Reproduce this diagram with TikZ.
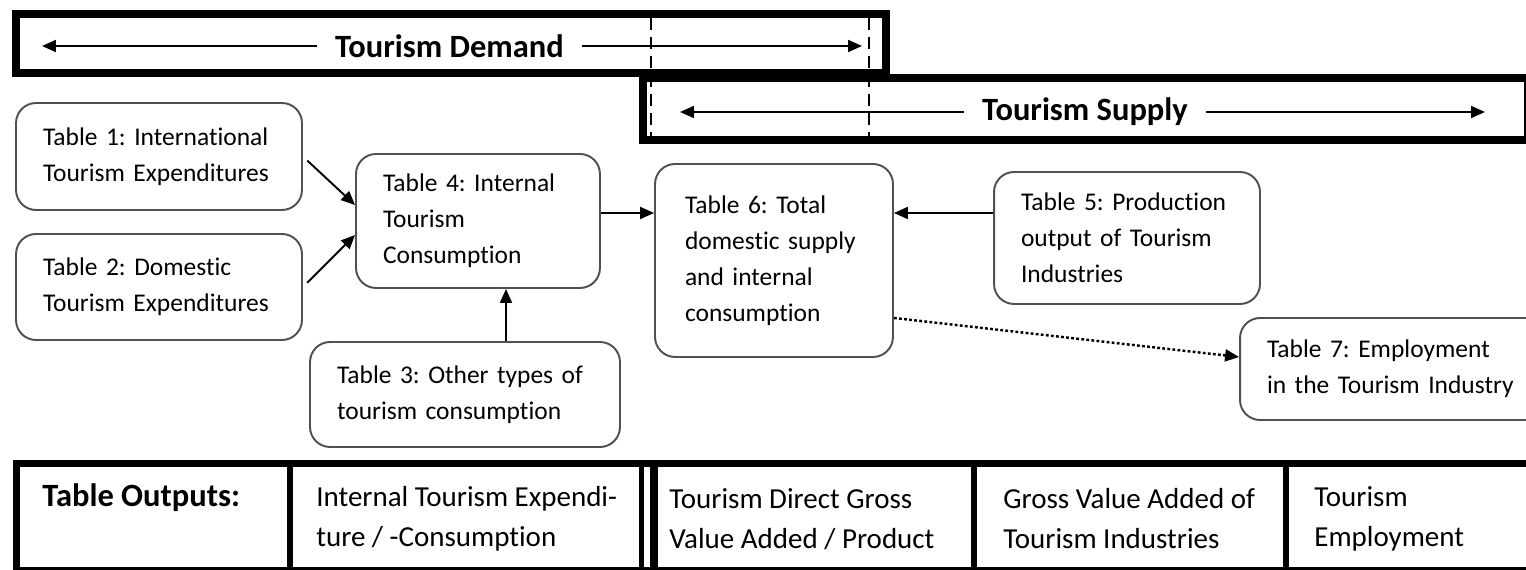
\documentclass[tikz,border=0pt]{standalone}
\usepackage{fontspec}
\setmainfont{Carlito}[Ligatures=NoCommon]
\frenchspacing
\usetikzlibrary{arrows.meta, positioning, calc}
\definecolor{boxline}{RGB}{80, 80, 80}

\begin{document}
\begin{tikzpicture}[x=0.02cm, y=-0.02cm,
    tbl/.style={draw=boxline, line width=1.1pt, rounded corners=0.4cm, align=left,
        inner xsep=0.54cm, inner ysep=0pt, font=\fontsize{14.5}{20.5}\selectfont},
    arr/.style={-{Triangle[length=0.28cm, width=0.24cm]}, line width=1.1pt},
    dotarr/.style={arr, line width=1.4pt, dash pattern=on 1.6pt off 1.3pt},
    banner/.style={fill=white, inner xsep=0.36cm, font=\fontsize{18.5}{22}\selectfont\bfseries},
    outhead/.style={anchor=west, inner sep=0pt, font=\fontsize{18.5}{22}\selectfont\bfseries},
    outcell/.style={anchor=west, align=left, inner sep=0pt, font=\fontsize{16.5}{22.8}\selectfont}]
    \useasboundingbox (0,0) rectangle (1526,570);

    % Demand / Supply banners
    \draw[line width=0.16cm] (16,14) rectangle (886,73);
    \draw[line width=0.16cm] (643,78) rectangle (1528,140);
    \node[banner] (demand) at (449.5,46) {Tourism Demand};
    \coordinate (demandL) at (42,46);
    \coordinate (demandR) at (862,46);
    \draw[arr] (demand.west) -- (demandL);
    \draw[arr] (demand.east) -- (demandR);
    \node[banner] (supply) at (1085,112) {Tourism Supply};
    \coordinate (supplyL) at (680,112);
    \coordinate (supplyR) at (1485,112);
    \draw[arr] (supply.west) -- (supplyL);
    \draw[arr] (supply.east) -- (supplyR);
    % overlap markers
    \foreach \x in {651, 869}
        \draw[line width=0.7pt, dash pattern=on 0.24cm off 0.14cm] (\x,18) -- (\x,137);

    % tables
    \node[tbl, text width=4.64cm, minimum height=2.14cm] (t1) at (159,156.5)
        {Table 1: International\\Tourism Expenditures};
    \node[tbl, text width=4.64cm, minimum height=2.12cm] (t2) at (159,287)
        {Table 2: Domestic\\Tourism Expenditures};
    \node[tbl, text width=3.80cm, minimum height=2.68cm] (t4) at (478,221)
        {Table 4: Internal\\Tourism\\Consumption};
    \node[tbl, text width=5.12cm, minimum height=2.10cm] (t3) at (465,394.5)
        {Table 3: Other types of\\tourism consumption};
    \node[tbl, inner xsep=0.6cm, text width=3.56cm, minimum height=3.86cm] (t6) at (774,260.5)
        {Table 6: Total\\domestic supply\\and internal\\consumption};
    \node[tbl, text width=4.24cm, minimum height=2.64cm] (t5) at (1127,238)
        {Table 5: Production\\output of Tourism\\Industries};
    \node[tbl, text width=5.32cm, minimum height=2.04cm] (t7) at (1400,369)
        {Table 7: Employment\\in the Tourism Industry};

    % links
    \draw[arr, shorten <=0.12cm] (t1.east) -- ([yshift=0.32cm]t4.west);
    \draw[arr, shorten <=0.12cm] (t2.east) -- ([yshift=-0.28cm]t4.west);
    \draw[arr] ([xshift=0.56cm]t4.south |- t3.north) -- ([xshift=0.56cm]t4.south);
    \draw[arr] ([yshift=0.16cm]t4.east) -- ([yshift=0.16cm]t4.east -| t6.west);
    \draw[arr] ([yshift=0.5cm]t5.west) -- ([yshift=0.5cm]t5.west -| t6.east);
    \draw[dotarr] ([yshift=-1.15cm]t6.east) -- ([yshift=0.24cm]t7.west);

    % outputs row
    \draw[line width=0.14cm] (16.5,464) rectangle (1545,571);
    \foreach \x in {289.5, 974, 1286}
        \draw[line width=0.12cm] (\x,464) -- (\x,571);
    \draw[line width=0.1cm] (641.5,464) -- (641.5,571);
    \draw[line width=0.16cm] (654,464) -- (654,571);
    \node[outhead] (outlabel) at (42,498) {Table Outputs:};
    \node[outcell] (outite) at (316,519) {Internal Tourism Expendi-\\ture / -Consumption};
    \node[outcell] (outtdgva) at (669,519) {Tourism Direct Gross\\Value Added / Product};
    \node[outcell] (outgva) at (1003,519) {Gross Value Added of\\Tourism Industries};
    \node[outcell] (outemp) at (1314,519) {Tourism\\Employment};
\end{tikzpicture}
\end{document}
